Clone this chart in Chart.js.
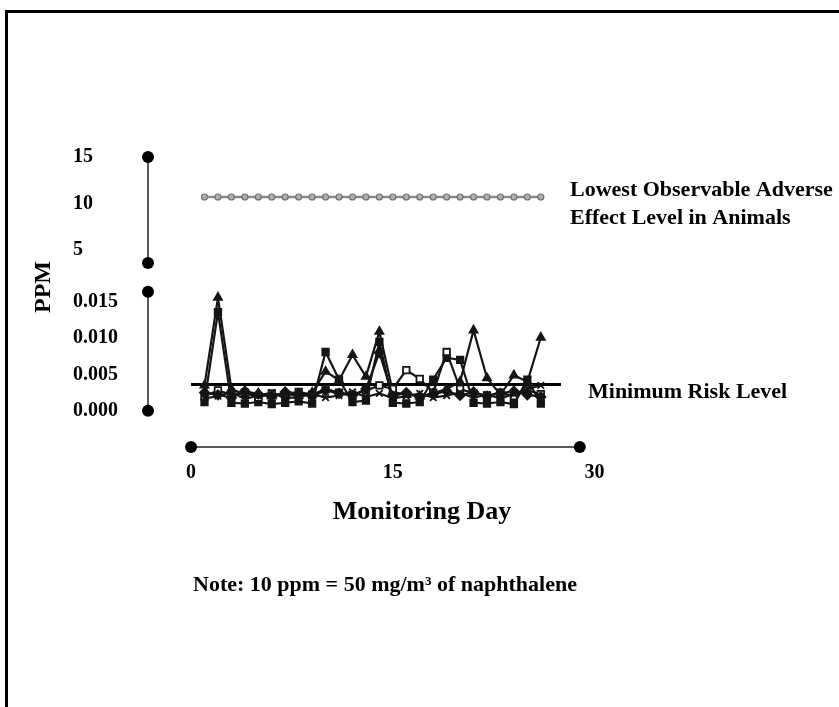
<!DOCTYPE html>
<html>
<head>
<meta charset="utf-8">
<title>Naphthalene monitoring</title>
<script src="https://cdn.jsdelivr.net/npm/chart.js@4.4.1/dist/chart.umd.min.js"></script>
<style>
  html, body { margin: 0; padding: 0; background: #fff; }
</style>
</head>
<body>
<canvas id="myChart" width="839" height="707"></canvas>
<script>
// monitoring days and readings (ppm)
const days = [1, 2, 3, 4, 5, 6, 7, 8, 9, 10, 11, 12, 13, 14, 15, 16, 17, 18, 19, 20, 21, 22, 23, 24, 25, 26];
const siteA = [0.0035, 0.0156, 0.0030, 0.0022, 0.0024, 0.0020, 0.0023, 0.0021, 0.0025, 0.0054, 0.0042, 0.0077, 0.0047, 0.0109, 0.0026, 0.0022, 0.0020, 0.0024, 0.0030, 0.0040, 0.0111, 0.0045, 0.0022, 0.0049, 0.0040, 0.0101];
const siteB = [0.0012, 0.0136, 0.0011, 0.0010, 0.0012, 0.0009, 0.0011, 0.0013, 0.0010, 0.0081, 0.0043, 0.0012, 0.0014, 0.0095, 0.0011, 0.0010, 0.0012, 0.0043, 0.0073, 0.0070, 0.0011, 0.0010, 0.0012, 0.0009, 0.0043, 0.0010];
const siteC = [0.0020, 0.0028, 0.0022, 0.0025, 0.0018, 0.0024, 0.0021, 0.0026, 0.0022, 0.0030, 0.0025, 0.0022, 0.0028, 0.0035, 0.0030, 0.0056, 0.0044, 0.0025, 0.0081, 0.0030, 0.0024, 0.0021, 0.0025, 0.0020, 0.0028, 0.0023];
const siteD = [0.0025, 0.0022, 0.0018, 0.0027, 0.0023, 0.0019, 0.0026, 0.0024, 0.0020, 0.0028, 0.0024, 0.0021, 0.0030, 0.0080, 0.0020, 0.0025, 0.0019, 0.0023, 0.0027, 0.0021, 0.0026, 0.0020, 0.0024, 0.0027, 0.0022, 0.0019];
const siteE = [0.0017, 0.0020, 0.0026, 0.0016, 0.0021, 0.0025, 0.0017, 0.0019, 0.0023, 0.0018, 0.0021, 0.0026, 0.0019, 0.0024, 0.0017, 0.0020, 0.0024, 0.0018, 0.0021, 0.0025, 0.0018, 0.0022, 0.0017, 0.0023, 0.0030, 0.0035];

// reference levels
const loaelLevel = 10.7;
const mrlLevel = 0.0036;
const mrlSpan = [0, 27.5];

// ticks and axis extents
const dayTicks = [0, 15, 30];
const highTicks = [5, 10, 15];
const lowTicks = [0, 0.005, 0.010, 0.015];
const dayAxisEnds = [0, 28.9];
const highAxisEnds = [3.6, 15];
const lowAxisEnds = [0, 0.0164];

const loaelText = ['Lowest Observable Adverse', 'Effect Level in Animals'];
const mrlText = 'Minimum Risk Level';
const yTitle = 'PPM';
const xTitle = 'Monitoring Day';
const noteText = 'Note: 10 ppm = 50 mg/m\u00B3 of naphthalene';

const serif = '"Liberation Serif", "Times New Roman", serif';
const tickFont = { family: serif, size: 20, weight: 'bold' };

function site(values, style, fill) {
    return {
        data: days.map((d, i) => ({ x: d, y: values[i] })),
        yAxisID: 'yLow',
        borderColor: '#151515',
        borderWidth: 2.2,
        pointStyle: style,
        pointRadius: 4.6,
        pointBackgroundColor: fill,
        pointBorderColor: '#151515',
        pointBorderWidth: 1.8
    };
}

function dot(ctx, x, y) {
    ctx.beginPath();
    ctx.arc(x, y, 6, 0, Math.PI * 2);
    ctx.fill();
}

function axisSegment(ctx, x1, y1, x2, y2) {
    ctx.beginPath();
    ctx.moveTo(x1, y1);
    ctx.lineTo(x2, y2);
    ctx.stroke();
    dot(ctx, x1, y1);
    dot(ctx, x2, y2);
}

const decorations = {
    id: 'decorations',
    beforeDraw(chart) {
        const ctx = chart.ctx;
        ctx.save();
        ctx.fillStyle = '#000';
        ctx.fillRect(5, 10, chart.width, 3);
        ctx.fillRect(5, 10, 3, chart.height);
        ctx.restore();
    },
    afterDraw(chart) {
        const { ctx, chartArea } = chart;
        const { x, yHigh, yLow } = chart.scales;
        ctx.save();
        ctx.strokeStyle = '#222';
        ctx.fillStyle = '#000';
        ctx.lineWidth = 1.5;
        axisSegment(ctx, chartArea.left, yHigh.getPixelForValue(highAxisEnds[1]), chartArea.left, yHigh.getPixelForValue(highAxisEnds[0]));
        axisSegment(ctx, chartArea.left, yLow.getPixelForValue(lowAxisEnds[1]), chartArea.left, yLow.getPixelForValue(lowAxisEnds[0]));
        axisSegment(ctx, x.getPixelForValue(dayAxisEnds[0]), chartArea.bottom, x.getPixelForValue(dayAxisEnds[1]), chartArea.bottom);

        ctx.textBaseline = 'middle';
        ctx.textAlign = 'left';
        ctx.font = 'bold 22px ' + serif;
        const ly = yHigh.getPixelForValue(loaelLevel);
        ctx.fillText(loaelText[0], chartArea.right - 30, ly - 7);
        ctx.fillText(loaelText[1], chartArea.right - 30, ly + 21);
        ctx.fillText(mrlText, chartArea.right - 12, yLow.getPixelForValue(mrlLevel) + 8);

        ctx.textAlign = 'center';
        ctx.font = 'bold 26px ' + serif;
        ctx.fillText(xTitle, chartArea.left + 274, chartArea.bottom + 65);
        ctx.font = 'bold 22px ' + serif;
        ctx.fillText(noteText, chartArea.left + 237, chartArea.bottom + 138);

        ctx.save();
        ctx.translate(yLow.left - 29, yLow.top + 9);
        ctx.rotate(-Math.PI / 2);
        ctx.font = 'bold 24px ' + serif;
        ctx.fillText(yTitle, 0, 0);
        ctx.restore();
        ctx.restore();
    }
};

const ctx = document.getElementById('myChart');
new Chart(ctx, {
    type: 'line',
    data: {
        datasets: [
            {
                data: days.map(d => ({ x: d, y: loaelLevel })),
                yAxisID: 'yHigh',
                borderColor: '#8a8a8a',
                borderWidth: 2.5,
                pointStyle: 'circle',
                pointRadius: 3,
                pointBackgroundColor: '#b0b0b0',
                pointBorderColor: '#707070',
                pointBorderWidth: 1.2
            },
            site(siteE, 'crossRot', '#151515'),
            site(siteD, 'rectRot', '#151515'),
            site(siteC, 'rect', '#fff'),
            site(siteB, 'rect', '#151515'),
            site(siteA, 'triangle', '#151515'),
            {
                data: mrlSpan.map(d => ({ x: d, y: mrlLevel })),
                yAxisID: 'yLow',
                borderColor: '#000',
                borderWidth: 3,
                pointRadius: 0
            }
        ]
    },
    options: {
        responsive: false,
        animation: false,
        layout: { padding: { left: 73, right: 239, top: 150, bottom: 220 } },
        plugins: { legend: { display: false }, tooltip: { enabled: false } },
        scales: {
            x: {
                type: 'linear',
                min: -3.2,
                max: 30.4,
                grid: { display: false, drawTicks: false },
                border: { display: false },
                afterBuildTicks: s => { s.ticks = dayTicks.map(v => ({ value: v })); },
                afterFit: s => { s.height = 40; },
                ticks: { padding: 14, color: '#000', font: tickFont, maxRotation: 0, autoSkip: false }
            },
            yHigh: {
                type: 'linear',
                position: 'left',
                stack: 'ppm',
                stackWeight: 128,
                weight: 1,
                min: 2,
                max: 15.75,
                grid: { display: false, drawTicks: false },
                border: { display: false },
                afterBuildTicks: s => { s.ticks = highTicks.map(v => ({ value: v })); },
                afterFit: s => { s.width = 75; },
                ticks: { crossAlign: 'far', color: '#000', font: tickFont, callback: v => String(v) }
            },
            yLow: {
                type: 'linear',
                position: 'left',
                stack: 'ppm',
                stackWeight: 169,
                weight: 0,
                min: -0.005,
                max: 0.0183,
                grid: { display: false, drawTicks: false },
                border: { display: false },
                afterBuildTicks: s => { s.ticks = lowTicks.map(v => ({ value: v })); },
                afterFit: s => { s.width = 75; },
                ticks: { crossAlign: 'far', color: '#000', font: tickFont, callback: v => v.toFixed(3) }
            }
        }
    },
    plugins: [decorations]
});
</script>
</body>
</html>
